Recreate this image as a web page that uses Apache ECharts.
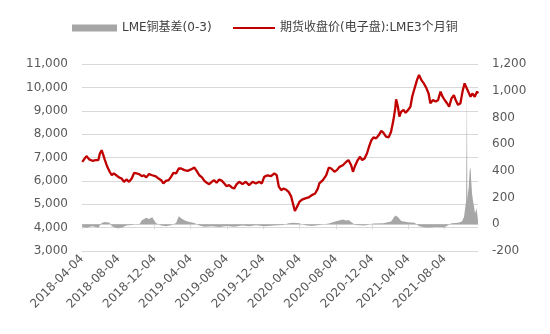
<!DOCTYPE html>
<html>
<head>
<meta charset="utf-8">
<script src="https://cdn.jsdelivr.net/npm/echarts@6/dist/echarts.min.js"></script>
<style>
  html, body { margin: 0; padding: 0; background: #ffffff; }
  #chart { width: 550px; height: 334px; }
</style>
</head>
<body>
<div id="chart"></div>
<script>
// LME 3-month copper close (USD/t), left axis
const priceDates = [
  '2018-04-05','2018-04-11','2018-04-19','2018-04-28','2018-05-09','2018-05-20','2018-05-29','2018-06-03',
  '2018-06-09','2018-06-13','2018-06-20','2018-06-28','2018-07-06','2018-07-13','2018-07-20','2018-07-28',
  '2018-08-06','2018-08-15','2018-08-23','2018-08-31','2018-09-09','2018-09-18','2018-09-26','2018-10-04',
  '2018-10-13','2018-10-22','2018-10-29','2018-11-06','2018-11-15','2018-11-26','2018-12-08','2018-12-17',
  '2018-12-26','2019-01-02','2019-01-11','2019-01-20','2019-01-28','2019-02-05','2019-02-14','2019-02-23',
  '2019-03-03','2019-03-14','2019-03-25','2019-04-05','2019-04-16','2019-04-24','2019-05-03','2019-05-12',
  '2019-05-20','2019-05-28','2019-06-05','2019-06-14','2019-06-22','2019-06-30','2019-07-09','2019-07-18',
  '2019-07-26','2019-08-03','2019-08-11','2019-08-20','2019-08-28','2019-09-05','2019-09-14','2019-09-25',
  '2019-10-06','2019-10-17','2019-10-29','2019-11-09','2019-11-20','2019-11-29','2019-12-07','2019-12-18',
  '2019-12-30','2020-01-10','2020-01-18','2020-01-25','2020-02-02','2020-02-09','2020-02-18','2020-02-27',
  '2020-03-06','2020-03-14','2020-03-19','2020-03-25','2020-04-03','2020-04-12','2020-04-23','2020-05-04',
  '2020-05-15','2020-05-26','2020-06-04','2020-06-09','2020-06-21','2020-07-02','2020-07-11','2020-07-19',
  '2020-07-30','2020-08-07','2020-08-16','2020-08-27','2020-09-07','2020-09-15','2020-09-24','2020-09-30',
  '2020-10-08','2020-10-16','2020-10-24','2020-10-31','2020-11-08','2020-11-16','2020-11-23','2020-12-01',
  '2020-12-08','2020-12-17','2020-12-26','2021-01-03','2021-01-10','2021-01-19','2021-01-28','2021-02-05',
  '2021-02-13','2021-02-19','2021-02-22','2021-02-28','2021-03-05','2021-03-11','2021-03-19','2021-03-26',
  '2021-04-03','2021-04-11','2021-04-17','2021-04-25','2021-05-03','2021-05-10','2021-05-18','2021-05-26',
  '2021-06-04','2021-06-11','2021-06-17','2021-06-26','2021-07-05','2021-07-13','2021-07-21','2021-07-28',
  '2021-08-04','2021-08-12','2021-08-19','2021-08-27','2021-09-04','2021-09-10','2021-09-18','2021-09-26',
  '2021-10-03','2021-10-10','2021-10-16','2021-10-22','2021-10-30','2021-11-05','2021-11-13','2021-11-21',
  '2021-11-24'
];
const priceValues = [
  6810, 6920, 7060, 6920, 6860, 6890, 6890, 7170,
  7310, 7170, 6890, 6600, 6390, 6240, 6320, 6240,
  6150, 6100, 5960, 6060, 5960, 6100, 6340, 6320,
  6290, 6200, 6240, 6150, 6290, 6240, 6190, 6100,
  6030, 5890, 6000, 6030, 6170, 6340, 6320, 6530,
  6530, 6460, 6430, 6490, 6570, 6430, 6240, 6150,
  6000, 5920, 5860, 5960, 6030, 5920, 6060, 6000,
  5890, 5770, 5820, 5720, 5670, 5850, 5960, 5860,
  5960, 5820, 5960, 5890, 5960, 5890, 6170, 6240,
  6200, 6320, 6240, 5750, 5600, 5670, 5630, 5530,
  5350, 4960, 4710, 4860, 5100, 5200, 5250, 5290,
  5390, 5460, 5670, 5890, 6030, 6240, 6570, 6530,
  6390, 6460, 6600, 6670, 6810, 6890, 6670, 6390,
  6670, 6890, 7030, 6890, 6960, 7170, 7460, 7740,
  7860, 7820, 7960, 8140, 8060, 7890, 7860, 8100,
  8600, 9100, 9490, 9170, 8750, 8960, 9030, 8910,
  9030, 9170, 9600, 9960, 10310, 10530, 10310, 10170,
  9960, 9740, 9320, 9460, 9390, 9460, 9820, 9600,
  9460, 9320, 9170, 9530, 9670, 9460, 9250, 9320,
  9820, 10170, 10100, 9820, 9600, 9740, 9600, 9820,
  9740
];

// LME copper cash-to-3M spread (USD/t), right axis
const spreadDates = [
  '2018-04-05','2018-04-19','2018-05-09','2018-05-29','2018-06-09','2018-06-20','2018-07-06','2018-07-13',
  '2018-07-28','2018-08-15','2018-08-31','2018-09-18','2018-10-04','2018-10-13','2018-10-22','2018-11-06',
  '2018-11-15','2018-11-26','2018-12-08','2018-12-26','2019-01-11','2019-01-28','2019-02-14','2019-02-23',
  '2019-03-03','2019-03-14','2019-03-25','2019-04-16','2019-05-03','2019-05-20','2019-06-14','2019-07-09',
  '2019-08-03','2019-08-28','2019-09-25','2019-10-17','2019-11-09','2019-12-07','2020-01-10','2020-02-09',
  '2020-02-27','2020-03-14','2020-04-03','2020-04-23','2020-05-15','2020-06-09','2020-07-11','2020-08-07',
  '2020-08-27','2020-09-07','2020-09-15','2020-10-08','2020-11-08','2020-12-08','2021-01-10','2021-02-05',
  '2021-02-19','2021-02-28','2021-03-11','2021-04-03','2021-04-25','2021-05-10','2021-06-04','2021-07-05',
  '2021-08-04','2021-08-27','2021-09-19','2021-10-01','2021-10-08','2021-10-13','2021-10-15','2021-10-18',
  '2021-10-19','2021-10-21','2021-10-24','2021-10-27','2021-10-30','2021-11-01','2021-11-04','2021-11-07',
  '2021-11-11','2021-11-14','2021-11-19','2021-11-24'
];
const spreadValues = [
  -20, -25, -15, -25, 10, 18, 12, -15,
  -28, -25, -10, -5, 3, -3, 30, 48,
  40, 52, 10, -10, -15, -8, 10, 60,
  45, 30, 20, 10, -10, -18, -15, -20,
  -12, -18, -10, -15, -8, -15, -10, -5,
  8, 12, 8, -8, -12, -5, 5, 25,
  35, 28, 33, -5, -10, 5, 8, 20,
  65, 55, 25, 15, 12, -15, -25, -20,
  -22, 8, 12, 20, 55, 140, 170, 1050,
  180, 230, 280, 400, 425, 330, 230, 180,
  130, 80, 120, 30
];

// x-axis tick labels, every four months
const tickDates = [
  '2018-04-04','2018-08-04','2018-12-04','2019-04-04','2019-08-04','2019-12-04',
  '2020-04-04','2020-08-04','2020-12-04','2021-04-04','2021-08-04'
];

const xStart = '2018-04-04';
const xEnd = '2021-11-24';

const FONT = '"DejaVu Sans", "Noto Sans CJK SC", sans-serif';
const TEXT = '#595959';
const GRID = '#d9d9d9';

function toTime(s) {
  const p = s.split('-').map(Number);
  return Date.UTC(p[0], p[1] - 1, p[2]);
}
function pad(n) { return (n < 10 ? '0' : '') + n; }
function fmtDate(t) {
  const d = new Date(t);
  return d.getUTCFullYear() + '-' + pad(d.getUTCMonth() + 1) + '-' + pad(d.getUTCDate());
}
function thousands(v) {
  return String(v).replace(/\B(?=(\d{3})+(?!\d))/g, ',');
}

const priceData = priceDates.map((d, i) => [toTime(d), priceValues[i]]);
const spreadData = spreadDates.map((d, i) => [toTime(d), spreadValues[i]]);
const tickTimes = tickDates.map(toTime);

const chart = echarts.init(document.getElementById('chart'), null, { renderer: 'canvas' });

chart.setOption({
  animation: false,
  backgroundColor: '#ffffff',
  textStyle: { fontFamily: FONT },
  legend: [
    {
      data: [{ name: 'LME铜基差(0-3)', icon: 'rect' }],
      left: 67, top: 17,
      itemWidth: 45, itemHeight: 7, itemGap: 0,
      selectedMode: false,
      textStyle: { fontFamily: FONT, fontSize: 12, color: '#404040' }
    },
    {
      data: [{ name: '期货收盘价(电子盘):LME3个月铜', icon: 'rect' }],
      left: 228, top: 17,
      itemWidth: 42, itemHeight: 2, itemGap: 0,
      selectedMode: false,
      textStyle: { fontFamily: FONT, fontSize: 12, color: '#404040' }
    }
  ],
  grid: { left: 82, right: 72, top: 64, bottom: 83 },
  // date axis in milliseconds; ticks and labels sit on the four-monthly dates
  xAxis: {
    type: 'value',
    min: toTime(xStart),
    max: toTime(xEnd),
    axisLine: { show: true, lineStyle: { color: GRID, width: 1 } },
    axisTick: { show: true, customValues: tickTimes, length: 5, lineStyle: { color: GRID } },
    axisLabel: {
      customValues: tickTimes,
      rotate: 45,
      margin: 6,
      color: TEXT,
      fontSize: 12,
      fontFamily: FONT,
      formatter: (v) => fmtDate(v)
    },
    splitLine: { show: false }
  },
  yAxis: [
    {
      type: 'value',
      position: 'left',
      min: 3000, max: 11000, interval: 1000,
      axisLine: { show: false },
      axisTick: { show: false },
      splitLine: { show: true, lineStyle: { color: GRID, width: 1 } },
      axisLabel: { color: TEXT, fontSize: 12, fontFamily: FONT, margin: 14, formatter: thousands }
    },
    {
      type: 'value',
      position: 'right',
      min: -200, max: 1200, interval: 200,
      axisLine: { show: false },
      axisTick: { show: false },
      splitLine: { show: false },
      axisLabel: { color: TEXT, fontSize: 12, fontFamily: FONT, margin: 14, formatter: thousands }
    }
  ],
  series: [
    {
      name: 'LME铜基差(0-3)',
      type: 'line',
      yAxisIndex: 1,
      data: spreadData,
      symbol: 'none',
      itemStyle: { color: '#a6a6a6' },
      lineStyle: { color: '#a6a6a6', width: 0 },
      areaStyle: { color: '#a6a6a6', opacity: 1 },
      z: 2
    },
    {
      name: '期货收盘价(电子盘):LME3个月铜',
      type: 'line',
      yAxisIndex: 0,
      data: priceData,
      symbol: 'none',
      itemStyle: { color: '#c00000' },
      lineStyle: { color: '#c00000', width: 2.3 },
      z: 3
    }
  ]
});
</script>
</body>
</html>
